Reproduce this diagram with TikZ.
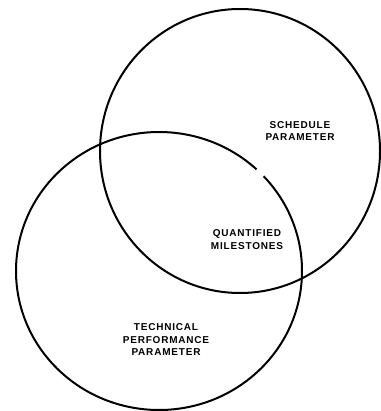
\documentclass[tikz,border=0pt]{standalone}
\usepackage{fontspec}
\setmainfont{Liberation Sans}
\newfontfamily\lblfont[LetterSpace=8]{Liberation Sans}
\begin{document}
\begin{tikzpicture}[x=1pt,y=-1pt,
  ring/.style={line width=2pt,draw=black},
  lbl/.style={font=\lblfont\bfseries\fontsize{10}{12.5}\selectfont,align=center,inner sep=0pt}]
\useasboundingbox[fill=white] (0,0) rectangle (380,411);
% upper circle (schedule)
\draw[ring] (240,151) ellipse [x radius=140, y radius=142];
% lower circle (technical performance), small gap upper right
\draw[ring] (159,271) ++(-43:143 and 139) arc [start angle=-43, end angle=313, x radius=143, y radius=139];
\node[lbl] (sched) at (300,131) {SCHEDULE\\PARAMETER};
\node[lbl] (quant) at (247,239.5) {QUANTIFIED\\MILESTONES};
\node[lbl] (tech) at (166,340) {TECHNICAL\\PERFORMANCE\\PARAMETER};
\end{tikzpicture}
\end{document}
